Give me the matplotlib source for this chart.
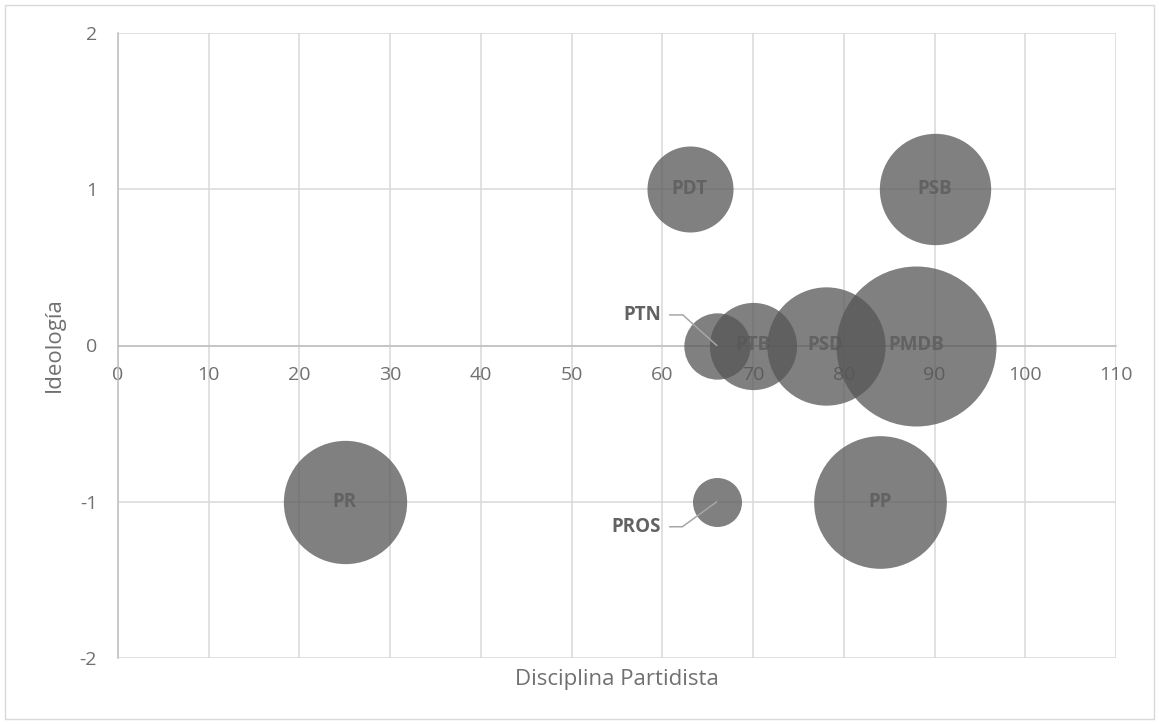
import matplotlib
matplotlib.use("Agg")
import matplotlib.pyplot as plt
import numpy as np
from matplotlib.patches import Rectangle

# party bubbles: disciplina (x), ideologia (y), size (bancada, estimated)
partidos = ["PR", "PDT", "PSB", "PTB", "PSD", "PMDB", "PP", "PTN", "PROS"]
disciplina = [25, 63, 90, 70, 78, 88, 84, 66, 66]
ideologia = [-1, 1, 1, 0, 0, 0, -1, 0, -1]
bancada = [38, 18.5, 31, 19, 35, 64, 44, 11, 6]

xticks = list(range(0, 111, 10))
yticks = [-2, -1, 0, 1, 2]

txt = "#707070"
lab = "#626262"
bub = (85 / 255, 86 / 255, 85 / 255)

plt.rcParams["font.family"] = ["Open Sans", "DejaVu Sans"]
plt.rcParams["axes.unicode_minus"] = False

fig = plt.figure(figsize=(11.59, 7.24), dpi=100)
ax = fig.add_axes([118 / 1159, 1 - 658 / 724, 998 / 1159, 625 / 724])

ax.set_xlim(0, 110)
ax.set_ylim(-2, 2)
ax.set_xticks(xticks)
ax.set_yticks(yticks)
ax.grid(True, color="#d9d9d9", linewidth=1.1)
ax.set_axisbelow(True)

for s in ["top", "right"]:
    ax.spines[s].set_visible(False)
ax.spines["bottom"].set_position(("data", 0))
ax.spines["bottom"].set_color("#bfbfbf")
ax.spines["left"].set_color("#bfbfbf")
ax.spines["bottom"].set_linewidth(1.1)
ax.spines["left"].set_linewidth(1.1)
ax.tick_params(length=0, labelsize=14, colors=txt)
ax.tick_params(axis="x", pad=15)
ax.tick_params(axis="y", pad=15)

# bubble area ~ bancada; radius in px = 10*sqrt(v)
scale = (2 * 10 * 0.72) ** 2
z = 3
for p, x, y, v in zip(partidos, disciplina, ideologia, bancada):
    ax.scatter([x], [y], s=scale * v, color=bub, alpha=0.75, linewidths=0, zorder=z)
    if p == "PTN":
        ax.annotate(p, (x, y), xytext=(-40, 22), textcoords="offset points",
                    ha="right", va="center", fontsize=13.5, fontweight="bold", color=lab,
                    arrowprops=dict(arrowstyle="-", color="#a6a6a6", lw=1.1,
                                    shrinkA=4, shrinkB=0,
                                    connectionstyle="angle,angleA=0,angleB=138,rad=0"),
                    zorder=20)
    elif p == "PROS":
        ax.annotate(p, (x, y), xytext=(-40, -18), textcoords="offset points",
                    ha="right", va="center", fontsize=13.5, fontweight="bold", color=lab,
                    arrowprops=dict(arrowstyle="-", color="#a6a6a6", lw=1.1,
                                    shrinkA=4, shrinkB=0,
                                    connectionstyle="angle,angleA=0,angleB=216,rad=0"),
                    zorder=20)
    else:
        ax.text(x, y, p, ha="center", va="center", fontsize=13.5, fontweight="bold",
                color=lab, zorder=z + 0.5)
    z += 1

fig.text(617 / 1159, 1 - 680 / 724, "Disciplina Partidista", ha="center", va="center",
         fontsize=16, color=txt)
fig.text(54 / 1159, 1 - 345 / 724, "Ideología", ha="center", va="center",
         rotation=90, fontsize=16, color=txt)

fig.patches.append(Rectangle((5 / 1159, 5 / 724), 1149 / 1159, 714 / 724,
                             transform=fig.transFigure, fill=False,
                             edgecolor="#d9d9d9", linewidth=1))

fig.savefig("out.png", dpi=100)
